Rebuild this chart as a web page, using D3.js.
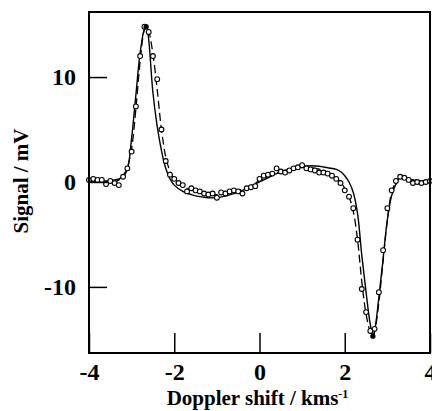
<!DOCTYPE html>
<html>
<head>
<meta charset="utf-8">
<script src="https://cdn.jsdelivr.net/npm/d3@7"></script>
<style>
  body { margin: 0; background: #fff; }
  text { font-family: "Liberation Serif", "DejaVu Serif", serif; font-weight: bold; fill: #000; }
</style>
</head>
<body>
<svg id="chart"></svg>
<script>
// measured points (open circles)
const pointShift = [-4.0, -3.9, -3.8, -3.7, -3.6, -3.5, -3.4, -3.3, -3.2, -3.1, -3.0, -2.9, -2.8, -2.7, -2.6, -2.5, -2.4, -2.3, -2.2, -2.1,
  -2.0, -1.9, -1.8, -1.7, -1.6, -1.5, -1.4, -1.3, -1.2, -1.1, -1.0, -0.9, -0.8, -0.7, -0.6, -0.5, -0.4, -0.3, -0.2, -0.1,
  0.0, 0.1, 0.2, 0.3, 0.4, 0.5, 0.6, 0.7, 0.8, 0.9, 1.0, 1.1, 1.2, 1.3, 1.4, 1.5, 1.6, 1.7, 1.8, 1.9,
  2.0, 2.1, 2.2, 2.3, 2.4, 2.5, 2.6, 2.7, 2.8, 2.9, 3.0, 3.1, 3.2, 3.3, 3.4, 3.5, 3.6, 3.7, 3.8, 3.9, 4.0];
const pointSignal = [0.2, 0.3, 0.2, 0.2, -0.2, 0.1, -0.1, -0.3, 0.5, 1.3, 2.9, 7.2, 12.0, 14.8, 14.3, 12.0, 9.8, 5.0, 2.0, 0.7,
  0.3, -0.1, -0.3, -0.9, -0.6, -0.8, -0.9, -1.1, -1.2, -1.1, -1.5, -1.0, -1.1, -0.9, -0.8, -0.9, -1.1, -0.6, -0.5, -0.4,
  0.3, 0.6, 0.7, 0.8, 1.3, 1.0, 0.9, 1.1, 1.3, 1.4, 1.6, 1.3, 1.2, 1.1, 0.9, 0.9, 0.8, 0.6, 0.3, -0.1,
  -0.8, -1.4, -2.5, -5.5, -10.2, -12.4, -14.2, -14.0, -10.5, -6.5, -2.5, -0.8, 0.1, 0.5, 0.4, 0.2, -0.1, 0.0, -0.1, 0.0, 0.1];

// filled points at the extrema
const filledShift = [-2.66, 2.66];
const filledSignal = [14.8, -14.7];

// solid fit
const fitShift = [-4.0, -3.8, -3.6, -3.4, -3.3, -3.2, -3.1, -3.0, -2.9, -2.8, -2.7, -2.65, -2.6, -2.5, -2.4, -2.3, -2.2, -2.1, -2.0,
  -1.8, -1.6, -1.4, -1.2, -1.0, -0.8, -0.6, -0.4, -0.2, 0.0, 0.2, 0.4, 0.6, 0.8, 1.0, 1.2, 1.4, 1.6, 1.8, 1.9,
  2.0, 2.1, 2.2, 2.3, 2.4, 2.5, 2.6, 2.66, 2.7, 2.8, 2.9, 3.0, 3.1, 3.2, 3.3, 3.4, 3.6, 3.8, 4.0];
const fitSignal = [0.1, 0.1, 0.1, 0.2, 0.3, 0.5, 1.2, 4.2, 8.3, 12.3, 14.6, 14.9, 13.6, 8.5, 5.3, 3.0, 1.3, 0.3, -0.3,
  -0.9, -1.2, -1.4, -1.5, -1.5, -1.35, -1.1, -0.8, -0.4, 0.0, 0.4, 0.8, 1.1, 1.35, 1.5, 1.55, 1.5, 1.35, 1.2, 1.0,
  0.6, 0.0, -1.0, -3.0, -7.0, -10.5, -13.6, -14.6, -14.2, -11.0, -7.3, -3.6, -1.3, -0.2, 0.4, 0.3, 0.2, 0.1, 0.1];

// dashed fit
const dashShift = [-4.0, -3.6, -3.4, -3.3, -3.2, -3.1, -3.0, -2.9, -2.8, -2.7, -2.65, -2.6, -2.5, -2.4, -2.3, -2.2, -2.1, -2.0,
  -1.9, -1.7, -1.5, -1.3, -1.1, -0.9, -0.7, -0.5, -0.3, -0.1, 0.1, 0.3, 0.5, 0.7, 0.9, 1.1, 1.3, 1.5, 1.7, 1.8, 1.9,
  2.0, 2.1, 2.2, 2.3, 2.4, 2.5, 2.6, 2.66, 2.7, 2.8, 2.9, 3.0, 3.1, 3.2, 3.3, 3.4, 3.6, 3.8, 4.0];
const dashSignal = [0.2, 0.0, 0.0, 0.2, 0.6, 1.4, 3.2, 7.0, 11.5, 14.5, 14.8, 14.4, 12.2, 8.8, 5.0, 2.4, 1.0, 0.2,
  -0.2, -0.6, -0.9, -1.1, -1.2, -1.2, -1.0, -0.8, -0.5, -0.1, 0.3, 0.7, 1.0, 1.2, 1.35, 1.4, 1.3, 1.1, 0.7, 0.4, 0.0,
  -0.6, -1.4, -2.8, -5.5, -9.5, -12.6, -14.3, -14.7, -14.3, -11.5, -7.5, -3.6, -1.0, 0.0, 0.4, 0.4, 0.2, 0.1, 0.1];

const xTicks = [-4, -2, 0, 2, 4];
const yTicks = [-10, 0, 10];

const width = 432;
const height = 411;
const margin = { top: 12, right: 2, bottom: 58, left: 89 };

const svg = d3.select('#chart').attr('width', width).attr('height', height);

const xScale = d3.scaleLinear().domain([-4, 4]).range([margin.left, width - margin.right]);
const yScale = d3.scaleLinear().domain([-16.3, 16.2]).range([height - margin.bottom, margin.top]);

const zip = (xs, ys) => xs.map((x, i) => ({ x: x, y: ys[i] }));

const line = d3.line()
  .x(d => xScale(d.x))
  .y(d => yScale(d.y))
  .curve(d3.curveCatmullRom.alpha(0.5));

// solid fit line
svg.append('path')
  .datum(zip(fitShift, fitSignal))
  .attr('d', line)
  .attr('fill', 'none')
  .attr('stroke', '#000')
  .attr('stroke-width', 1.4);

// dashed line
svg.append('path')
  .datum(zip(dashShift, dashSignal))
  .attr('d', line)
  .attr('fill', 'none')
  .attr('stroke', '#000')
  .attr('stroke-width', 1.3)
  .attr('stroke-dasharray', '8,4');

// open circles
svg.append('g')
  .selectAll('circle')
  .data(zip(pointShift, pointSignal))
  .enter()
  .append('circle')
  .attr('cx', d => xScale(d.x))
  .attr('cy', d => yScale(d.y))
  .attr('r', 2.4)
  .attr('fill', '#fff')
  .attr('stroke', '#000')
  .attr('stroke-width', 1.1);

svg.append('g')
  .selectAll('circle')
  .data(zip(filledShift, filledSignal))
  .enter()
  .append('circle')
  .attr('cx', d => xScale(d.x))
  .attr('cy', d => yScale(d.y))
  .attr('r', 2.6)
  .attr('fill', '#000');

// frame
const x0 = xScale.range()[0], x1 = xScale.range()[1];
const y0 = yScale.range()[0], y1 = yScale.range()[1];
svg.append('rect')
  .attr('x', x0).attr('y', y1)
  .attr('width', x1 - x0).attr('height', y0 - y1)
  .attr('fill', 'none')
  .attr('stroke', '#000')
  .attr('stroke-width', 2);

// inward ticks
const xAxis = d3.axisBottom(xScale).tickValues(xTicks).tickSize(-20).tickFormat(d => d < 0 ? '-' + Math.abs(d) : d);
const gx = svg.append('g')
  .attr('transform', 'translate(0,' + y0 + ')')
  .call(xAxis);
gx.select('.domain').remove();
gx.selectAll('line').attr('stroke', '#000').attr('stroke-width', 1.5);
gx.selectAll('text')
  .attr('y', 27)
  .attr('dy', 0)
  .style('font-size', '24px')
  .style('font-family', '"Liberation Serif", serif')
  .style('font-weight', 'bold');

const yAxis = d3.axisLeft(yScale).tickValues(yTicks).tickSize(-18).tickFormat(d => d < 0 ? '-' + Math.abs(d) : d);
const gy = svg.append('g')
  .attr('transform', 'translate(' + x0 + ',0)')
  .call(yAxis);
gy.select('.domain').remove();
gy.selectAll('line').attr('stroke', '#000').attr('stroke-width', 1.5);
gy.selectAll('text')
  .attr('x', -13)
  .attr('dy', '0.3em')
  .style('font-size', '24px')
  .style('font-family', '"Liberation Serif", serif')
  .style('font-weight', 'bold');

// axis titles
const xTitle = svg.append('text')
  .attr('x', (x0 + x1) / 2 - 2)
  .attr('y', 405)
  .attr('text-anchor', 'middle')
  .style('font-size', '21px');
xTitle.append('tspan').text('Doppler shift / kms');
xTitle.append('tspan').attr('dy', -7).style('font-size', '12px').text('-1');

svg.append('text')
  .attr('transform', 'translate(28,181) rotate(-90)')
  .attr('text-anchor', 'middle')
  .style('font-size', '21px')
  .text('Signal / mV');
</script>
</body>
</html>
